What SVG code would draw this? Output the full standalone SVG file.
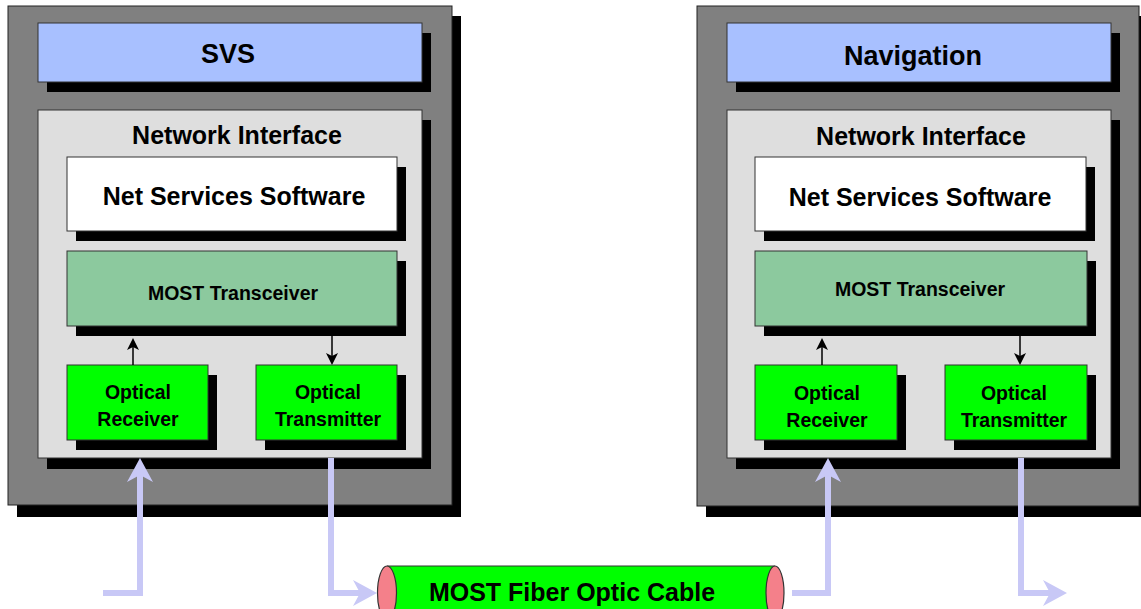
<svg xmlns="http://www.w3.org/2000/svg" width="1141" height="609" viewBox="0 0 1141 609">
<defs>
<style>
.sh{fill:#000}
.outer{fill:#808080;stroke:#222;stroke-width:1}
.title{fill:#a8c0ff;stroke:#333;stroke-width:1}
.ni{fill:#dedede;stroke:#333;stroke-width:1}
.nss{fill:#fff;stroke:#333;stroke-width:1}
.most{fill:#8cc99e;stroke:#333;stroke-width:1}
.opt{fill:#00ff00;stroke:#333;stroke-width:1}
text{font-family:"Liberation Sans",Arial,sans-serif;font-weight:bold;fill:#000;text-anchor:middle}
.fiber{fill:none;stroke:#c8c8f6;stroke-width:6;stroke-linejoin:miter}
.thin{fill:none;stroke:#000;stroke-width:1.5}
</style>
<marker id="big" viewBox="0 0 24 26" refX="8" refY="13" markerWidth="24" markerHeight="26" markerUnits="userSpaceOnUse" orient="auto">
<path d="M24,13 L0,0 L7,13 L0,26 Z" fill="#c8c8f6"/>
</marker>
<marker id="small" viewBox="0 0 12 12" refX="3" refY="6" markerWidth="12" markerHeight="12" markerUnits="userSpaceOnUse" orient="auto">
<path d="M12,6 L0,0 L3,6 L0,12 Z" fill="#000"/>
</marker>
</defs>
<rect width="1141" height="609" fill="#fff"/>

<g id="svs-module">
<rect class="sh" x="17" y="16" width="444" height="501"/>
<rect class="outer" x="8" y="6" width="444" height="499"/>
<rect class="sh" x="47" y="33" width="384" height="59"/>
<rect class="title" x="38" y="23" width="384" height="59"/>
<text x="228" y="63" font-size="27">SVS</text>
<rect class="sh" x="47" y="120" width="384" height="349"/>
<rect class="ni" x="38" y="110" width="384" height="348"/>
<text x="237" y="144" font-size="25">Network Interface</text>
</g>
<g id="svs-nss">
<rect class="sh" x="76" y="167" width="330" height="74"/>
<rect class="nss" x="67" y="157" width="330" height="74"/>
<text x="234" y="205" font-size="25">Net Services Software</text>
</g>
<g id="svs-most">
<rect class="sh" x="76" y="261" width="330" height="75"/>
<rect class="most" x="67" y="251" width="330" height="75"/>
<text x="233" y="300" font-size="19.5">MOST Transceiver</text>
</g>
<g id="svs-rx">
<rect class="sh" x="76" y="375" width="141" height="75"/>
<rect class="opt" x="67" y="365" width="141" height="75"/>
<text x="138" y="399" font-size="19.5">Optical</text>
<text x="138" y="426" font-size="19.5">Receiver</text>
</g>
<g id="svs-tx">
<rect class="sh" x="265" y="375" width="141" height="75"/>
<rect class="opt" x="256" y="365" width="141" height="75"/>
<text x="328" y="399" font-size="19.5">Optical</text>
<text x="328" y="426" font-size="19.5">Transmitter</text>
</g>

<g id="nav-module">
<rect class="sh" x="706" y="16" width="444" height="501"/>
<rect class="outer" x="697" y="6" width="442" height="500"/>
<rect class="sh" x="736" y="33" width="384" height="59"/>
<rect class="title" x="727" y="23" width="384" height="59"/>
<text x="913" y="65" font-size="27">Navigation</text>
<rect class="sh" x="736" y="120" width="384" height="349"/>
<rect class="ni" x="727" y="110" width="384" height="348"/>
<text x="921" y="145" font-size="25">Network Interface</text>
</g>
<g id="nav-nss">
<rect class="sh" x="764" y="167" width="331" height="74"/>
<rect class="nss" x="755" y="157" width="331" height="74"/>
<text x="920" y="206" font-size="25">Net Services Software</text>
</g>
<g id="nav-most">
<rect class="sh" x="764" y="261" width="332" height="75"/>
<rect class="most" x="755" y="251" width="332" height="75"/>
<text x="920" y="296" font-size="19.5">MOST Transceiver</text>
</g>
<g id="nav-rx">
<rect class="sh" x="764" y="375" width="142" height="75"/>
<rect class="opt" x="755" y="365" width="142" height="75"/>
<text x="827" y="400" font-size="19.5">Optical</text>
<text x="827" y="427" font-size="19.5">Receiver</text>
</g>
<g id="nav-tx">
<rect class="sh" x="954" y="375" width="142" height="75"/>
<rect class="opt" x="945" y="365" width="142" height="75"/>
<text x="1014" y="400" font-size="19.5">Optical</text>
<text x="1014" y="427" font-size="19.5">Transmitter</text>
</g>

<g id="cable">
<path d="M387,566 L775,566 L775,620 L387,620 Z" fill="#00ff00" stroke="#333" stroke-width="1"/>
<ellipse cx="387" cy="593" rx="9.5" ry="27" fill="#f4808a" stroke="#333" stroke-width="1.2"/>
<ellipse cx="775" cy="593" rx="9" ry="27" fill="#f4808a" stroke="#333" stroke-width="1.2"/>
<text x="572" y="601" font-size="25">MOST Fiber Optic Cable</text>
</g>

<g id="connectors">
<line class="thin" x1="133" y1="365" x2="133" y2="347" marker-end="url(#small)"/>
<line class="thin" x1="332" y1="336" x2="332" y2="356" marker-end="url(#small)"/>
<line class="thin" x1="822" y1="365" x2="822" y2="347" marker-end="url(#small)"/>
<line class="thin" x1="1020" y1="336" x2="1020" y2="356" marker-end="url(#small)"/>
<polyline class="fiber" points="103,593 140,593 140,474" marker-end="url(#big)"/>
<polyline class="fiber" points="331,458 331,593 361,593" marker-end="url(#big)"/>
<polyline class="fiber" points="792,593 828,593 828,474" marker-end="url(#big)"/>
<polyline class="fiber" points="1021,458 1021,593 1051,593" marker-end="url(#big)"/>
</g>
</svg>
